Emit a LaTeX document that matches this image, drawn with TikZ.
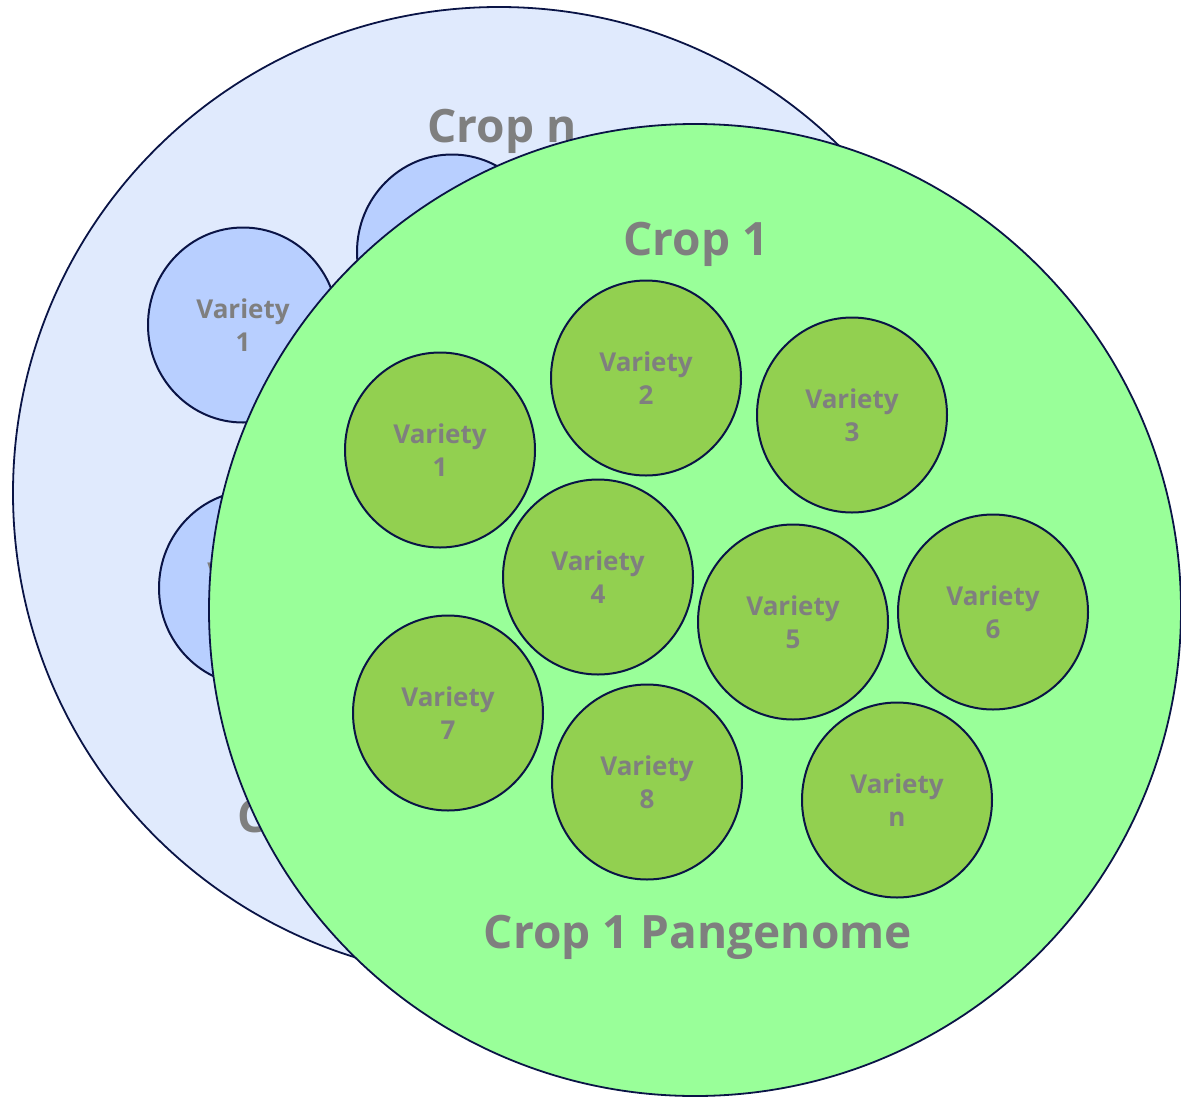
\documentclass[tikz,border=0pt]{standalone}
\usepackage{fontspec}
\setmainfont{Open Sans}
\usetikzlibrary{shapes.geometric}
\definecolor{bluebig}{HTML}{E0EAFD}
\definecolor{bluesmall}{HTML}{B8CFFF}
\definecolor{greenbig}{HTML}{99FF99}
\definecolor{greensmall}{HTML}{92D050}
\definecolor{edgecol}{HTML}{0A1446}
\definecolor{txtgray}{HTML}{7F7F7F}
\tikzset{
  bigcircle/.style={circle, draw=edgecol, line width=1.8pt, minimum size=972pt, inner sep=0pt},
  variety/.style={ellipse, draw=edgecol, line width=2pt, minimum width=190pt, minimum height=195pt,
    inner sep=0pt, align=center, text=txtgray, font=\fontsize{26}{33}\selectfont\bfseries},
  title/.style={text=txtgray, font=\fontsize{46}{50}\selectfont\bfseries, inner sep=0pt}
}
\begin{document}
\begin{tikzpicture}[x=1pt,y=-1pt]
\useasboundingbox (0,0) rectangle (1181,1098);
\clip (0,0) rectangle (1181,1098);
% Crop n (background)
\node[bigcircle, fill=bluebig] (cropn) at (499,493) {};
\node[variety, fill=bluesmall] (nv1) at (243,325) {Variety\\1};
\node[variety, fill=bluesmall] (nv2) at (452,252) {Variety\\2};
\node[variety, fill=bluesmall] (nv7) at (254,588) {Variety\\7};
\node[title, anchor=base] (cropntitle) at (502,142) {Crop n};
\node[title, anchor=base west] (cropnpan) at (237,832) {Crop n Pangenome};
% Crop 1 (foreground)
\node[bigcircle, fill=greenbig] (crop1) at (695,610) {};
\node[title, anchor=base] (crop1title) at (696,255) {Crop 1};
\node[variety, fill=greensmall] (v1) at (440,450) {Variety\\1};
\node[variety, fill=greensmall] (v2) at (646,378) {Variety\\2};
\node[variety, fill=greensmall] (v3) at (852,415) {Variety\\3};
\node[variety, fill=greensmall] (v4) at (598,577) {Variety\\4};
\node[variety, fill=greensmall] (v5) at (793,622) {Variety\\5};
\node[variety, fill=greensmall] (v6) at (993,612) {Variety\\6};
\node[variety, fill=greensmall] (v7) at (448,713) {Variety\\7};
\node[variety, fill=greensmall] (v8) at (647,782) {Variety\\8};
\node[variety, fill=greensmall] (vn) at (897,800) {Variety\\n};
\node[title, anchor=base] (pan) at (698,948) {Crop 1 Pangenome};
\end{tikzpicture}
\end{document}
